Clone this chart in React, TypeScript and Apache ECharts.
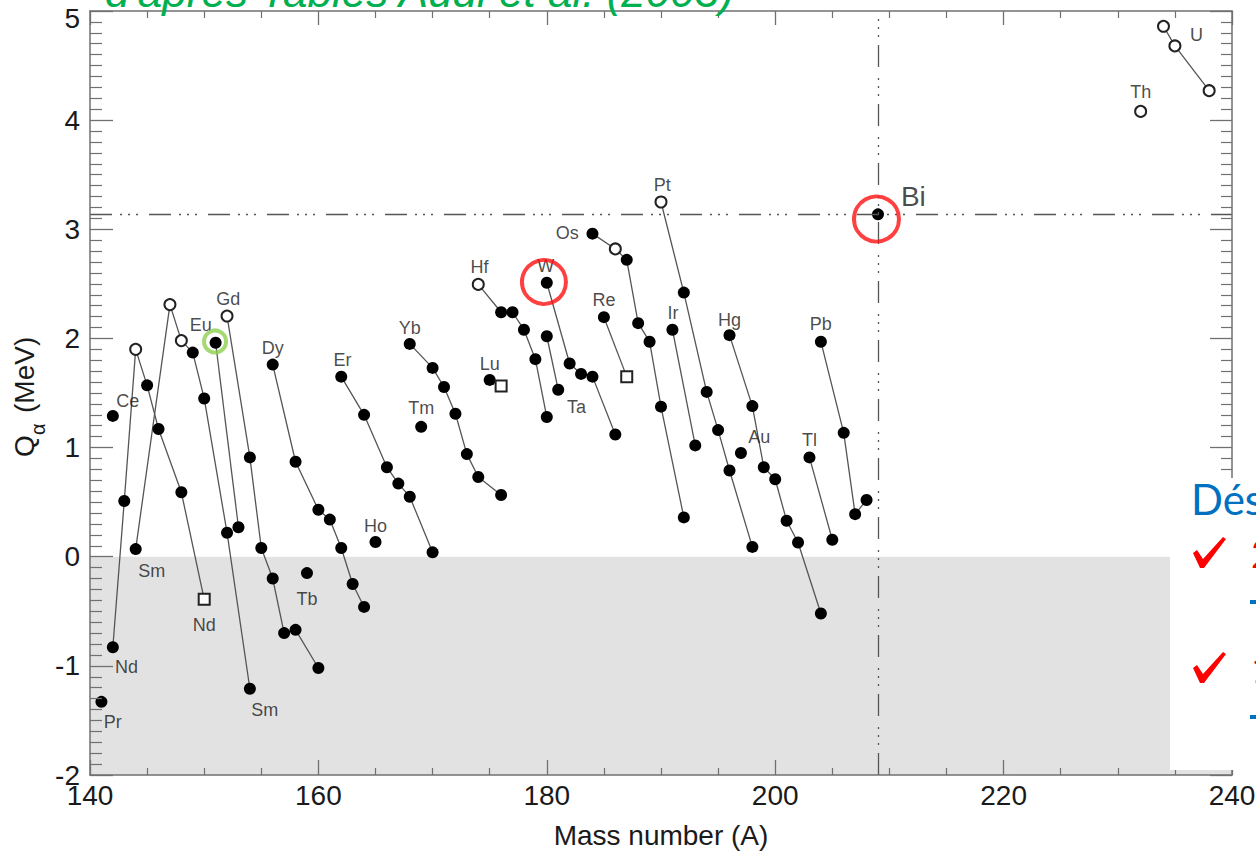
import React, { useEffect, useRef } from "react";
import * as echarts from "echarts";

type Pt = [number, number, string]; // [mass number, Q alpha (MeV), kind: f=filled, o=open circle, s=open square]

// ---- Data ----
const pr: Pt[] = [[141, -1.33, "f"]];
const nd: Pt[] = [[142, -0.83, "f"], [143, 0.51, "f"], [144, 1.9, "o"], [145, 1.57, "f"], [146, 1.17, "f"], [148, 0.59, "f"], [150, -0.39, "s"]];
const ce: Pt[] = [[142, 1.29, "f"]];
const sm: Pt[] = [[144, 0.07, "f"], [147, 2.31, "o"], [148, 1.98, "o"], [149, 1.87, "f"], [150, 1.45, "f"], [152, 0.22, "f"], [154, -1.21, "f"]];
const eu: Pt[] = [[151, 1.96, "f"], [153, 0.27, "f"]];
const gd: Pt[] = [[152, 2.205, "o"], [154, 0.91, "f"], [155, 0.08, "f"], [156, -0.2, "f"], [157, -0.7, "f"], [158, -0.67, "f"], [160, -1.02, "f"]];
const dy: Pt[] = [[156, 1.76, "f"], [158, 0.87, "f"], [160, 0.43, "f"], [161, 0.34, "f"], [162, 0.08, "f"], [163, -0.25, "f"], [164, -0.46, "f"]];
const tb: Pt[] = [[159, -0.15, "f"]];
const er: Pt[] = [[162, 1.65, "f"], [164, 1.3, "f"], [166, 0.82, "f"], [167, 0.67, "f"], [168, 0.55, "f"], [170, 0.04, "f"]];
const ho: Pt[] = [[165, 0.135, "f"]];
const tm: Pt[] = [[169, 1.19, "f"]];
const yb: Pt[] = [[168, 1.95, "f"], [170, 1.73, "f"], [171, 1.555, "f"], [172, 1.31, "f"], [173, 0.94, "f"], [174, 0.73, "f"], [176, 0.565, "f"]];
const lu: Pt[] = [[175, 1.62, "f"], [176, 1.565, "s"]];
const hf: Pt[] = [[174, 2.495, "o"], [176, 2.24, "f"], [177, 2.24, "f"], [178, 2.08, "f"], [179, 1.81, "f"], [180, 1.28, "f"]];
const ta: Pt[] = [[180, 2.02, "f"], [181, 1.53, "f"]];
const w: Pt[] = [[180, 2.51, "f"], [182, 1.77, "f"], [183, 1.675, "f"], [184, 1.65, "f"], [186, 1.12, "f"]];
const re: Pt[] = [[185, 2.195, "f"], [187, 1.65, "s"]];
const os: Pt[] = [[184, 2.96, "f"], [186, 2.82, "o"], [187, 2.72, "f"], [188, 2.14, "f"], [189, 1.97, "f"], [190, 1.375, "f"], [192, 0.36, "f"]];
const ir: Pt[] = [[191, 2.08, "f"], [193, 1.02, "f"]];
const pt: Pt[] = [[190, 3.25, "o"], [192, 2.42, "f"], [194, 1.51, "f"], [195, 1.16, "f"], [196, 0.79, "f"], [198, 0.09, "f"]];
const au: Pt[] = [[197, 0.95, "f"]];
const hg: Pt[] = [[196, 2.03, "f"], [198, 1.38, "f"], [199, 0.82, "f"], [200, 0.71, "f"], [201, 0.33, "f"], [202, 0.13, "f"], [204, -0.52, "f"]];
const tl: Pt[] = [[203, 0.91, "f"], [205, 0.155, "f"]];
const pb: Pt[] = [[204, 1.97, "f"], [206, 1.135, "f"], [207, 0.39, "f"], [208, 0.52, "f"]];
const bi: Pt[] = [[209, 3.137, "f"]];
const th: Pt[] = [[232, 4.08, "o"]];
const u: Pt[] = [[234, 4.86, "o"], [235, 4.68, "o"], [238, 4.27, "o"]];

const chains: Pt[][] = [pr, nd, ce, sm, eu, gd, dy, tb, er, ho, tm, yb, lu, hf, ta, w, re, os, ir, pt, au, hg, tl, pb, bi, th, u];

// element labels: [text, A, Q, fontSize]
const labels: [string, number, number, number][] = [
  ["Ce", 143.3, 1.43, 18], ["Sm", 145.4, -0.13, 18], ["Nd", 150.0, -0.63, 18], ["Nd", 143.2, -1.01, 18],
  ["Pr", 142.0, -1.51, 18], ["Sm", 155.3, -1.4, 18], ["Eu", 149.7, 2.12, 18], ["Gd", 152.1, 2.36, 18],
  ["Dy", 156.0, 1.91, 18], ["Tb", 159.0, -0.39, 18], ["Er", 162.1, 1.8, 18], ["Ho", 165.0, 0.28, 18],
  ["Yb", 168.0, 2.1, 18], ["Tm", 169.0, 1.36, 18], ["Lu", 175.0, 1.77, 18], ["Hf", 174.1, 2.65, 18],
  ["W", 179.9, 2.66, 18], ["Ta", 182.6, 1.37, 18], ["Os", 181.8, 2.97, 18], ["Re", 185.0, 2.35, 18],
  ["Pt", 190.1, 3.41, 18], ["Ir", 191.05, 2.23, 18], ["Hg", 196.0, 2.17, 18], ["Au", 198.6, 1.1, 18],
  ["Tl", 203.0, 1.07, 18], ["Pb", 204.0, 2.13, 18], ["Bi", 212.1, 3.3, 28], ["Th", 232.0, 4.26, 18],
  ["U", 236.9, 4.78, 18],
];

// highlight rings: [A, Q, size, color]
const rings: [number, number, number, string][] = [
  [179.75, 2.517, 44, "#ff1010"],
  [208.87, 3.094, 45, "#ff1010"],
  [150.95, 1.972, 22, "#8fd14f"],
];

const biQ = 3.137;
const biA = 209;
const xTicks = { min: 140, max: 240, interval: 20 };
const yTicks = { min: -2, max: 5, interval: 1 };

const FONT = '"Liberation Sans", Arial, Helvetica, sans-serif';
const dashDot = [22, 8, 2, 6, 2, 6, 2, 11];

function items(pts: Pt[]) {
  return pts.map(([a, q, k]) => ({
    value: [a, q],
    symbol: k === "o" ? "emptyCircle" : k === "s" ? "emptyRect" : "circle",
    symbolSize: k === "f" ? 12 : 11,
    itemStyle:
      k === "f"
        ? { color: "#000", borderWidth: 0 }
        : { color: "#222", borderColor: "#222", borderWidth: 1.4 },
  }));
}

export default function App() {
  const ref = useRef<HTMLDivElement>(null);
  useEffect(() => {
    if (!ref.current) return;
    const chart = echarts.init(ref.current, undefined, { renderer: "svg" });
    const axisColor = "#707070";
    const xBase = {
      type: "value" as const,
      min: xTicks.min,
      max: xTicks.max,
      interval: xTicks.interval,
      splitLine: { show: false },
      z: 10,
      axisLine: { show: true, onZero: false, lineStyle: { color: axisColor, width: 1.5 } },
    };
    const yBase = {
      type: "value" as const,
      min: yTicks.min,
      max: yTicks.max,
      interval: yTicks.interval,
      splitLine: { show: false },
      z: 10,
      axisLine: { show: true, onZero: false, lineStyle: { color: axisColor, width: 1.5 } },
    };
    const series: any[] = [];
    series.push({
      type: "scatter",
      data: [],
      silent: true,
      z: 0,
      markArea: {
        silent: true,
        itemStyle: { color: "#e2e2e2" },
        data: [[{ xAxis: xTicks.min, yAxis: 0 }, { xAxis: xTicks.max, yAxis: yTicks.min }]],
      },
      markLine: {
        silent: true,
        symbol: "none",
        label: { show: false },
        lineStyle: { color: "#555", width: 1.3, type: dashDot },
        data: [{ yAxis: biQ }, { xAxis: biA }],
      },
    });
    chains.forEach((c) => {
      series.push({
        type: "line",
        data: items(c),
        showSymbol: true,
        silent: true,
        z: 3,
        lineStyle: { color: "#555", width: 1.3 },
      });
    });
    series.push({
      type: "scatter",
      silent: true,
      z: 4,
      symbolSize: 0,
      data: labels.map(([t, a, q, fs]) => ({
        value: [a, q],
        name: t,
        label: { fontSize: fs },
      })),
      label: {
        show: true,
        position: "inside",
        formatter: "{b}",
        color: "#1a1a1a",
        fontFamily: FONT,
      },
    });
    series.push({
      type: "scatter",
      silent: true,
      z: 6,
      data: rings.map(([a, q, s, c]) => ({
        value: [a, q],
        symbolSize: s,
        itemStyle: { color: "rgba(0,0,0,0)", borderColor: c, borderWidth: 4 },
      })),
    });

    const tickLabelStyle = { fontSize: 28, color: "#1a1a1a", fontFamily: FONT };
    const checkShape = (y0: number) => [
      [1193, y0 + 15], [1197, y0 + 12], [1203, y0 + 21], [1223, y0 - 1], [1226, y0 + 1], [1204, y0 + 30], [1200, y0 + 30],
    ];

    const option: any = {
      animation: false,
      grid: { left: 90, right: 24, top: 11, bottom: 77, containLabel: false, outerBoundsMode: "none" },
      xAxis: [
        {
          ...xBase,
          position: "bottom",
          name: "Mass number (A)",
          nameLocation: "middle",
          nameGap: 46,
          nameTextStyle: { fontSize: 28, color: "#1a1a1a", fontFamily: FONT },
          axisTick: { show: true, inside: true, length: 15, lineStyle: { color: axisColor, width: 1.3 } },
          minorTick: { show: true, splitNumber: 4, length: 7, lineStyle: { color: axisColor, width: 1.2 } },
          axisLabel: { ...tickLabelStyle, margin: 6 },
        },
        {
          ...xBase,
          position: "top",
          axisTick: { show: true, inside: true, length: 14, lineStyle: { color: axisColor, width: 1.3 } },
          minorTick: { show: true, splitNumber: 4, length: 7, lineStyle: { color: axisColor, width: 1.2 } },
          axisLabel: { show: false },
        },
      ],
      yAxis: [
        {
          ...yBase,
          position: "left",
          axisTick: { show: true, inside: true, length: 23, lineStyle: { color: axisColor, width: 1.3 } },
          minorTick: { show: true, splitNumber: 10, length: 12, lineStyle: { color: axisColor, width: 1.2 } },
          axisLabel: {
            ...tickLabelStyle,
            margin: 10,
            formatter: (v: number) => (v === yTicks.max ? "{t|" + v + "}" : String(v)),
            rich: { t: { ...tickLabelStyle, padding: [14, 0, 0, 0] } },
          },
        },
        {
          ...yBase,
          position: "right",
          axisTick: { show: true, inside: true, length: 22, lineStyle: { color: axisColor, width: 1.3 } },
          minorTick: { show: true, splitNumber: 10, length: 11, lineStyle: { color: axisColor, width: 1.2 } },
          axisLabel: { show: false },
        },
      ],
      series,
      graphic: [
        {
          type: "text",
          x: 105,
          y: -9,
          z: 50,
          style: {
            text: "d'après Tables Audi et al. (2003)",
            font: 'italic 44px "Liberation Sans", Arial, sans-serif',
            fill: "#00B050",
            align: "left",
            verticalAlign: "middle",
          },
        },
        {
          type: "group",
          x: 24,
          y: 457,
          rotation: Math.PI / 2,
          children: [
            { type: "text", x: 0, y: 0, style: { text: "Q", font: "28px " + FONT, fill: "#1a1a1a", align: "left", verticalAlign: "middle" } },
            { type: "text", x: 22, y: 14, style: { text: "α", font: "20px " + FONT, fill: "#1a1a1a", align: "left", verticalAlign: "middle" } },
            { type: "text", x: 44, y: 0, style: { text: "(MeV)", font: "28px " + FONT, fill: "#1a1a1a", align: "left", verticalAlign: "middle" } },
          ],
        },
        { type: "rect", z: 100, shape: { x: 1170, y: 478, width: 90, height: 292 }, style: { fill: "#ffffff" } },
        { type: "text", z: 101, x: 1191, y: 499, style: { text: "Dés", font: '42px Lato, "Open Sans", sans-serif', fill: "#0070C0", align: "left", verticalAlign: "middle" } },
        { type: "polygon", z: 101, shape: { points: checkShape(538) }, style: { fill: "#ff0000" } },
        { type: "polygon", z: 101, shape: { points: checkShape(653) }, style: { fill: "#ff0000" } },
        { type: "text", z: 101, x: 1251, y: 553, style: { text: "2", font: '38px Lato, sans-serif', fill: "#ff0000", align: "left", verticalAlign: "middle" } },
        { type: "text", z: 101, x: 1251, y: 668, style: { text: "1", font: '38px Lato, sans-serif', fill: "#ff0000", align: "left", verticalAlign: "middle" } },
        { type: "rect", z: 101, shape: { x: 1250, y: 600, width: 10, height: 4 }, style: { fill: "#0070C0" } },
        { type: "rect", z: 101, shape: { x: 1250, y: 715, width: 10, height: 4 }, style: { fill: "#0070C0" } },
      ],
    };
    chart.setOption(option);
    return () => chart.dispose();
  }, []);
  return (
    <div
      ref={ref}
      style={{ position: "absolute", left: 0, top: 0, width: 1256, height: 852, background: "#fff" }}
    />
  );
}
